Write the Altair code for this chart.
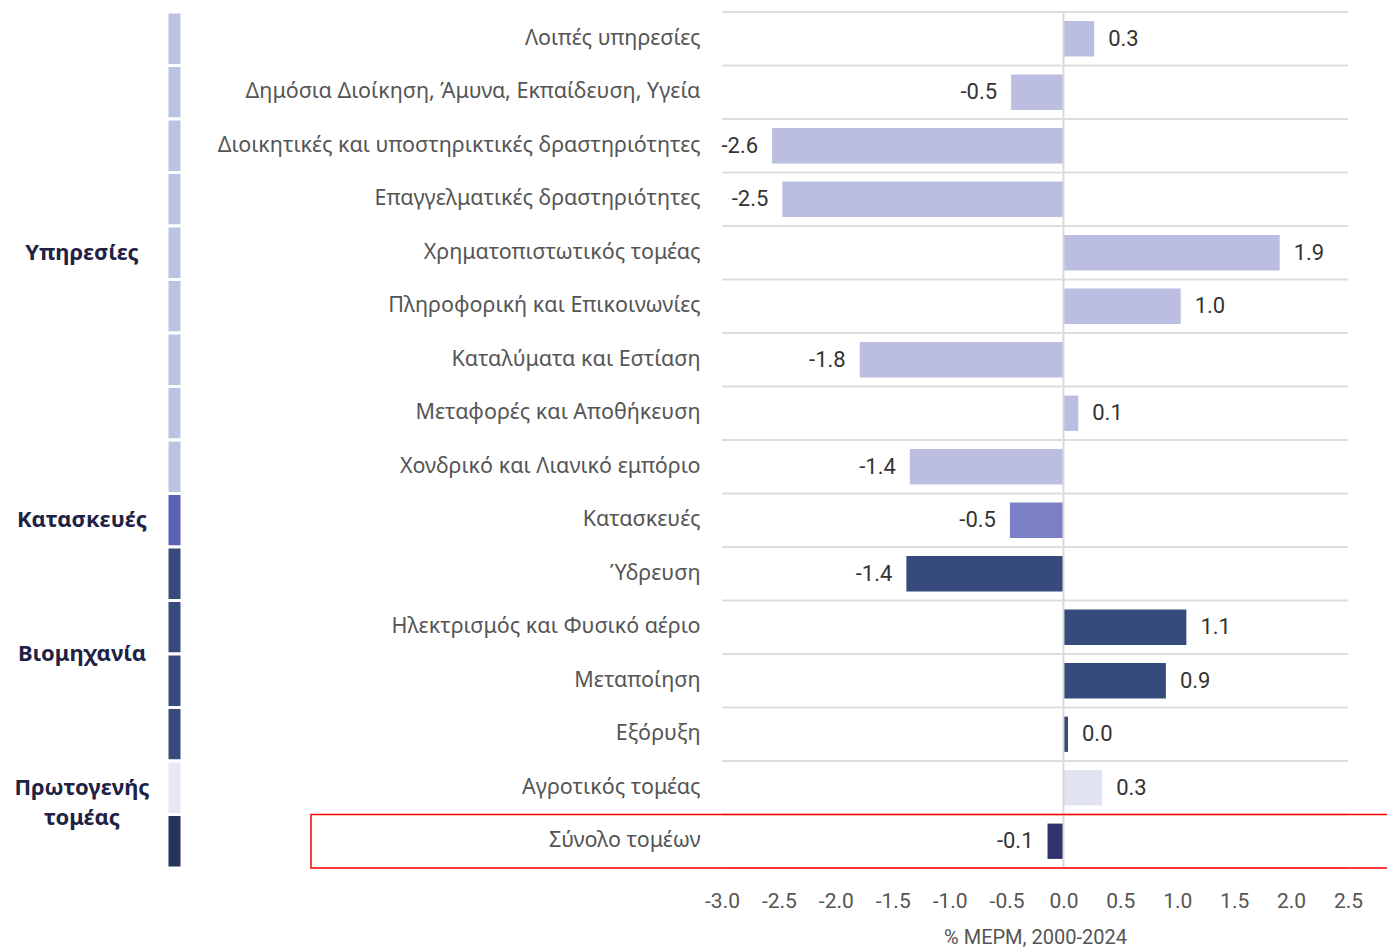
import altair as alt
import pandas as pd

categories = [
    "Λοιπές υπηρεσίες",
    "Δημόσια Διοίκηση, Άμυνα, Εκπαίδευση, Υγεία",
    "Διοικητικές και υποστηρικτικές δραστηριότητες",
    "Επαγγελματικές δραστηριότητες",
    "Χρηματοπιστωτικός τομέας",
    "Πληροφορική και Επικοινωνίες",
    "Καταλύματα και Εστίαση",
    "Μεταφορές και Αποθήκευση",
    "Χονδρικό και Λιανικό εμπόριο",
    "Κατασκευές",
    "Ύδρευση",
    "Ηλεκτρισμός και Φυσικό αέριο",
    "Μεταποίηση",
    "Εξόρυξη",
    "Αγροτικός τομέας",
    "Σύνολο τομέων",
]
values = [0.27, -0.46, -2.56, -2.47, 1.90, 1.03, -1.79, 0.13, -1.35,
          -0.47, -1.38, 1.08, 0.90, 0.04, 0.34, -0.14]
groups = (["Υπηρεσίες"] * 9 + ["Κατασκευές"] + ["Βιομηχανία"] * 4
          + ["Πρωτογενής τομέας"] + ["Σύνολο"])

group_names = ["Υπηρεσίες", "Κατασκευές", "Βιομηχανία", "Πρωτογενής τομέας", "Σύνολο"]
group_labels = ["Υπηρεσίες", "Κατασκευές", "Βιομηχανία", "Πρωτογενής\nτομέας", ""]
bar_colors = ["#bbbee0", "#7b7fc6", "#364a7c", "#e1e3f1", "#2f336b"]
strip_colors = ["#b8c4e2", "#5b62b5", "#364a7c", "#e7e8f3", "#26335a"]
x_ticks = [-3.0, -2.5, -2.0, -1.5, -1.0, -0.5, 0.0, 0.5, 1.0, 1.5, 2.0, 2.5]
x_title = "% ΜΕΡΜ, 2000-2024"

n = len(categories)
df = pd.DataFrame({
    "category": categories,
    "value": values,
    "group": groups,
    "row": list(range(n)),
    "row_end": [i + 1 for i in range(n)],
})

g_rows = []
for name, lab in zip(group_names, group_labels):
    idx = [i for i, g in enumerate(groups) if g == name]
    if lab:
        g_rows.append({"label": lab, "center": (idx[0] + idx[-1] + 1) / 2})
gdf = pd.DataFrame(g_rows)
rules_df = pd.DataFrame({"b": list(range(n + 1))})
zero_df = pd.DataFrame({"z": [0.0]})

W, H = 626, 856
MINUS_FIX = "replace(format(datum.value, '.1f'), '\u2212', '-')"

band = alt.Scale(paddingInner=0.34, paddingOuter=0.17)
y_axis = alt.Axis(title=None, orient="left", labelFont="Noto Sans", labelFontSize=21.5,
                  labelColor="#555555", labelPadding=22, ticks=False,
                  domain=False, grid=False, labelLimit=700)
y_nom = alt.Y("category:N", sort=categories, scale=band, axis=y_axis)

x_q = alt.X(
    "value:Q",
    scale=alt.Scale(domain=[x_ticks[0], x_ticks[-1]], nice=False, zero=False),
    axis=alt.Axis(values=x_ticks, labelExpr=MINUS_FIX, labelFont="Roboto",
                  labelFontSize=21, labelColor="#555555", labelPadding=22,
                  ticks=False, domain=False, grid=False, labelFlush=False,
                  labelOverlap=False, title=x_title, titleFont="Roboto",
                  titleFontSize=20, titleFontWeight="normal",
                  titleColor="#555555", titlePadding=16),
)

base = alt.Chart(df).transform_calculate(lbl=MINUS_FIX)

zero_line = alt.Chart(zero_df).mark_rule(color="#d9d9d9", strokeWidth=2).encode(
    x=alt.X("z:Q")
)
bars = base.mark_bar().encode(
    x=x_q,
    y=y_nom,
    color=alt.Color("group:N", scale=alt.Scale(domain=group_names, range=bar_colors),
                    legend=None),
)
pos_text = base.transform_filter("datum.value >= 0").mark_text(
    align="left", baseline="middle", dx=14, font="Roboto", fontSize=22, color="#333333"
).encode(x="value:Q", y=y_nom, text="lbl:N")
neg_text = base.transform_filter("datum.value < 0").mark_text(
    align="right", baseline="middle", dx=-14, font="Roboto", fontSize=22, color="#333333"
).encode(x="value:Q", y=y_nom, text="lbl:N")

main = alt.layer(bars, zero_line, pos_text, neg_text)

yq_scale = alt.Scale(domain=[0, n], reverse=True, nice=False, zero=False)

grid = alt.Chart(rules_df).mark_rule(color="#dddddd", strokeWidth=2).encode(
    y=alt.Y("b:Q", scale=yq_scale, axis=None)
)
strips = alt.Chart(df).mark_rect(stroke="white", strokeWidth=3).encode(
    x=alt.value(-555), x2=alt.value(-540),
    y=alt.Y("row:Q", scale=yq_scale, axis=None), y2="row_end:Q",
    color=alt.Color("group:N", scale=alt.Scale(domain=group_names, range=strip_colors),
                    legend=None),
)
glabels = alt.Chart(gdf).mark_text(
    align="center", baseline="middle", font="Noto Sans", fontSize=22,
    fontWeight="bold", color="#1e2245", lineBreak="\n", lineHeight=30
).encode(
    x=alt.value(-640),
    y=alt.Y("center:Q", scale=yq_scale, axis=None),
    text="label:N",
)
redbox = alt.Chart(df).transform_filter("datum.group == 'Σύνολο'").mark_rect(
    fillOpacity=0, stroke="#ff0000", strokeWidth=1.5
).encode(
    x=alt.value(-411), x2=alt.value(720),
    y=alt.Y("row:Q", scale=yq_scale, axis=None), y2="row_end:Q",
)

deco = alt.layer(grid, strips, glabels, redbox)

chart = alt.layer(main, deco).resolve_scale(
    y="independent", color="independent"
).properties(
    width=W, height=H,
    autosize=alt.AutoSizeParams(type="none"),
    padding={"left": 714, "top": 4, "right": 39, "bottom": 84},
).configure_view(stroke=None)

chart.save("out.html", embed_options={"renderer": "svg", "actions": False})
